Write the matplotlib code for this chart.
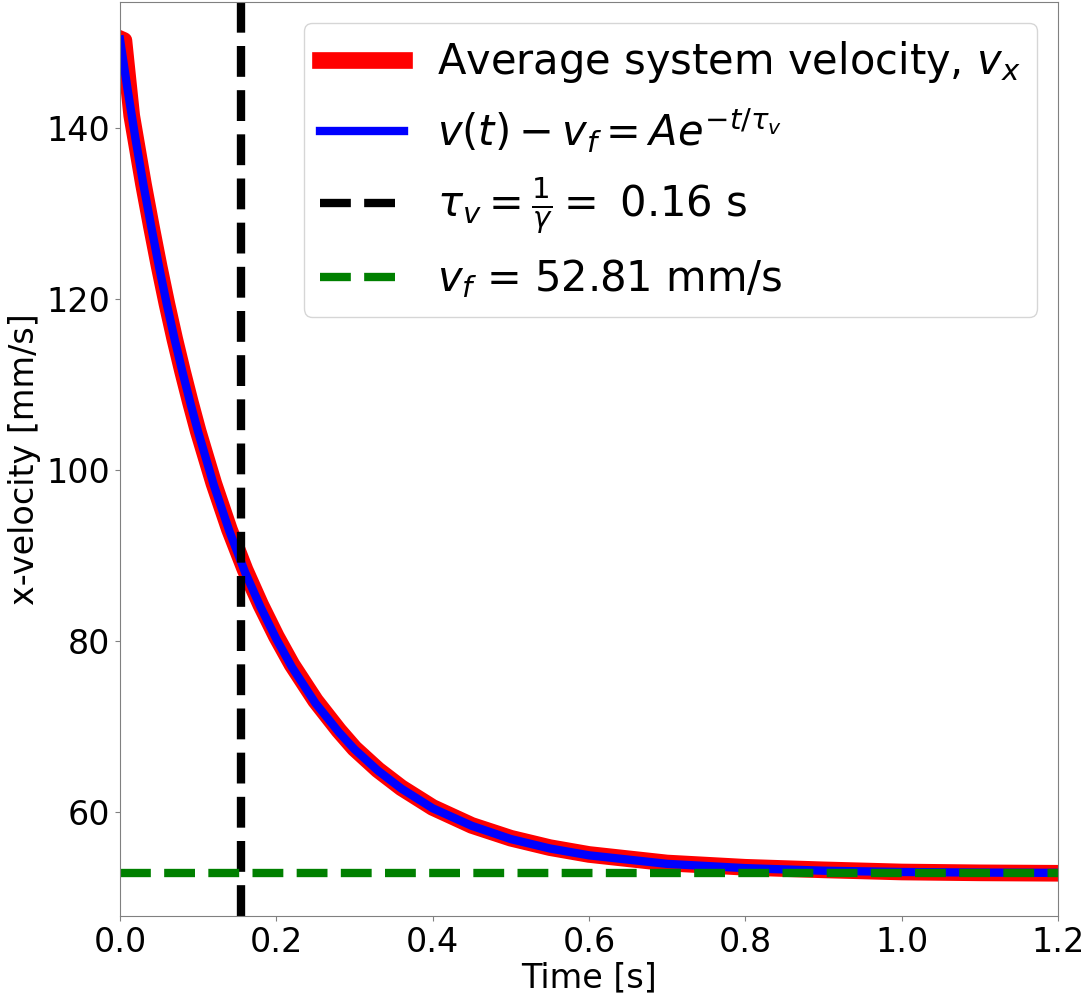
import matplotlib
matplotlib.use('Agg')
import matplotlib.pyplot as plt
import numpy as np

# average system velocity (t in s, v in mm/s)
t_data = [0.0, 0.005, 0.015, 0.03, 0.04, 0.05, 0.06, 0.07, 0.08, 0.09, 0.10,
          0.12, 0.14, 0.16, 0.18, 0.20, 0.22, 0.25, 0.28, 0.30, 0.33, 0.36,
          0.40, 0.45, 0.50, 0.55, 0.60, 0.70, 0.80, 0.90, 1.00, 1.10, 1.20]
v_data = [150.4, 150.2, 141.4, 133.4, 128.5, 123.8, 119.4, 115.3, 111.5, 107.9, 104.5,
          98.4, 93.0, 88.3, 84.2, 80.5, 77.2, 73.0, 69.5, 67.4, 64.9, 62.8,
          60.5, 58.4, 56.9, 55.8, 55.0, 54.0, 53.5, 53.2, 52.95, 52.85, 52.8]

# exponential fit curve
t_fit = [0.0, 0.01, 0.02, 0.03, 0.04, 0.05, 0.06, 0.07, 0.08, 0.09, 0.10,
         0.12, 0.14, 0.16, 0.18, 0.20, 0.22, 0.25, 0.28, 0.30, 0.33, 0.36,
         0.40, 0.45, 0.50, 0.55, 0.60, 0.70, 0.80, 0.90, 1.00, 1.10, 1.20]
v_fit = [150.3, 144.3, 138.6, 133.3, 128.4, 123.7, 119.3, 115.2, 111.4, 107.8, 104.4,
         98.2, 92.8, 88.0, 83.9, 80.2, 76.9, 72.7, 69.3, 67.3, 64.8, 62.7,
         60.4, 58.35, 56.8, 55.7, 54.9, 53.9, 53.4, 53.1, 52.95, 52.88, 52.85]

tau_v = 0.155
v_f = 52.81

fig = plt.figure(figsize=(10.89, 9.96), dpi=100)
ax = fig.add_axes([0.1102, 0.0803, 0.8613, 0.9177])

ax.plot(t_data, v_data, color='red', lw=12, label=r'Average system velocity, $v_x$')
ax.plot(t_fit, v_fit, color='blue', lw=6, label=r'$v(t) - v_f = Ae^{-t/\tau_v}$')
ax.axvline(tau_v, color='black', ls='--', lw=6, label=r'$\tau_v = \frac{1}{\gamma} =$ 0.16 s')
ax.axhline(v_f, color='green', ls='--', lw=6, label=r'$v_f$ = 52.81 mm/s')

ax.set_xlim(0, 1.2)
ax.set_ylim(47.8, 154.7)
ax.set_yticks([60, 80, 100, 120, 140])
ax.set_xlabel('Time [s]', fontsize=24, labelpad=2)
ax.set_ylabel('x-velocity [mm/s]', fontsize=24)
ax.tick_params(labelsize=24, color='0.5')
for s in ax.spines.values():
    s.set_color('0.5')

ax.legend(loc='upper right', fontsize=30)

fig.savefig('out.png', dpi=100)
